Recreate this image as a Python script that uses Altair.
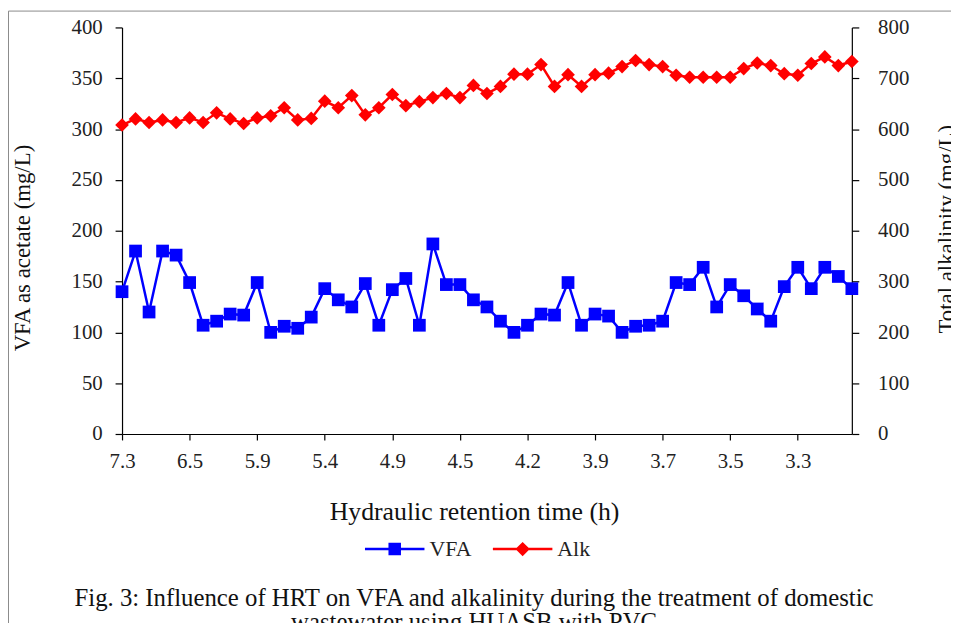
import json
import altair as alt
import pandas as pd

# ---- data ----
hrt_labels = ["7.3", "6.5", "5.9", "5.4", "4.9", "4.5", "4.2", "3.9", "3.7", "3.5", "3.3"]

vfa = [140, 180, 120, 180, 176, 149, 107, 111, 118, 117,
       149, 100, 106, 104, 115, 143, 132, 125, 148, 107,
       142, 153, 107, 187, 147, 147, 132, 125, 111, 100,
       107, 118, 117, 149, 107, 118, 116, 100, 106, 107,
       111, 149, 147, 164, 125, 147, 136, 123, 111, 145,
       164, 143, 164, 155, 143]

alk = [608, 620, 613, 618, 613, 622, 613, 632, 620, 611,
       622, 626, 642, 618, 621, 655, 642, 666, 628, 642,
       668, 646, 654, 662, 670, 662, 686, 670, 684, 708,
       708, 727, 684, 707, 684, 707, 710, 723, 735, 727,
       723, 706, 702, 702, 702, 702, 719, 730, 725, 709,
       706, 729, 742, 725, 733]

series_names = ["VFA", "Alk"]
series_colors = ["#0000FF", "#FF0000"]

caption_lines = [
    "Fig. 3: Influence of HRT on VFA and alkalinity during the treatment of domestic",
    "wastewater using HUASB with PVC",
]

df = pd.DataFrame({"idx": list(range(len(vfa))), "VFA": vfa, "Alk": alk})

FONT = "Liberation Serif"
W, H = 736, 410

label_expr = json.dumps(hrt_labels) + "[round(datum.value / 5)]"

x_enc = alt.X(
    "idx:Q",
    scale=alt.Scale(domain=[0, len(vfa) - 1], nice=False, zero=False),
    axis=alt.Axis(
        values=list(range(0, 51, 5)),
        labelExpr=label_expr,
        labelFlush=False,
        labelOverlap=False,
        tickSize=6,
        labelPadding=11,
        labelFontSize=21,
        title="Hydraulic retention time (h)",
        titleFontSize=26,
        titleX=355,
        titleY=78,
        titleBaseline="middle",
    ),
)

base = alt.Chart(df)

y_left = alt.Y(
    "VFA:Q",
    scale=alt.Scale(domain=[0, 400], nice=False),
    axis=alt.Axis(
        orient="left",
        values=list(range(0, 401, 50)),
        tickSize=7,
        labelPadding=13,
        labelFontSize=21,
        title="VFA as acetate (mg/L)",
        titleFontSize=23,
        titleAngle=270,
        titleX=-100,
        titleY=222,
        titleBaseline="middle",
        titleAlign="center",
    ),
)

y_right = alt.Y(
    "Alk:Q",
    scale=alt.Scale(domain=[0, 800], nice=False),
    axis=alt.Axis(
        orient="right",
        values=list(range(0, 801, 100)),
        tickSize=7,
        labelPadding=19,
        labelFontSize=21,
        title="Total alkalinity (mg/L)",
        titleFontSize=23,
        titleAngle=270,
        titleX=96,
        titleY=203,
        titleBaseline="middle",
        titleAlign="center",
    ),
)

vfa_line = base.mark_line(color=series_colors[0], strokeWidth=2.5).encode(x=x_enc, y=y_left)
vfa_pts = base.mark_point(shape="square", filled=True, size=165, opacity=1,
                          color=series_colors[0]).encode(x=x_enc, y=y_left)

# legend (line + marker symbols), drawn by the library from an empty layer
sq_path = "M-1,-0.04H-0.21V-0.21H0.21V-0.04H1V0.04H0.21V0.21H-0.21V0.04H-1Z"
di_path = "M-1,-0.04H-0.2L0,-0.24L0.2,-0.04H1V0.04H0.2L0,0.24L-0.2,0.04H-1Z"
leg = alt.Legend(
    title=None,
    orient="none",
    legendX=245,
    legendY=496,
    direction="horizontal",
    padding=0,
    labelFont=FONT,
    labelFontSize=22,
    labelColor="#222222",
    labelOffset=5,
    columnPadding=21,
    symbolSize=3600,
    symbolStrokeWidth=0,
)
legend_layer = base.transform_filter("false").transform_fold(
    ["VFA", "Alk"], as_=["series", "val"]
).mark_point(filled=True, opacity=1, size=3600).encode(
    x=x_enc,
    y=y_left,
    color=alt.Color("series:N", scale=alt.Scale(domain=series_names, range=series_colors), legend=leg),
    shape=alt.Shape("series:N", scale=alt.Scale(domain=series_names, range=[sq_path, di_path]), legend=leg),
)

alk_line = base.mark_line(color=series_colors[1], strokeWidth=2.5).encode(x=x_enc, y=y_right)
alk_pts = base.mark_point(shape="diamond", filled=True, size=190, opacity=1,
                          color=series_colors[1]).encode(x=x_enc, y=y_right)

left = alt.layer(vfa_line, vfa_pts, legend_layer)
right = alt.layer(alk_line, alk_pts)

frame = alt.Chart(pd.DataFrame({"a": [0]})).mark_rect(
    filled=False, stroke="#8a8a8a", strokeWidth=1
).encode(x=alt.value(-114.5), y=alt.value(-16.5), x2=alt.value(1200), y2=alt.value(900))

caption = alt.Chart(pd.DataFrame({"a": [0]})).mark_text(
    text=caption_lines,
    font=FONT,
    fontSize=25,
    lineHeight=25,
    baseline="top",
    align="center",
    color="#111111",
).encode(x=alt.value(355), y=alt.value(563))

chart = alt.layer(left, right, frame, caption).resolve_scale(y="independent").properties(
    width=W,
    height=H,
    padding={"left": 115, "top": 17, "right": 100, "bottom": 188},
    autosize=alt.AutoSizeParams(type="none"),
    background="white",
).configure_view(stroke=None).configure_axis(
    grid=False,
    domainColor="#000000",
    tickColor="#000000",
    domainWidth=1.2,
    tickWidth=1.2,
    labelFont=FONT,
    titleFont=FONT,
    labelColor="#222222",
    titleColor="#111111",
    titleFontWeight="normal",
)

chart.save("out.html", embed_options={"renderer": "svg", "actions": False})
